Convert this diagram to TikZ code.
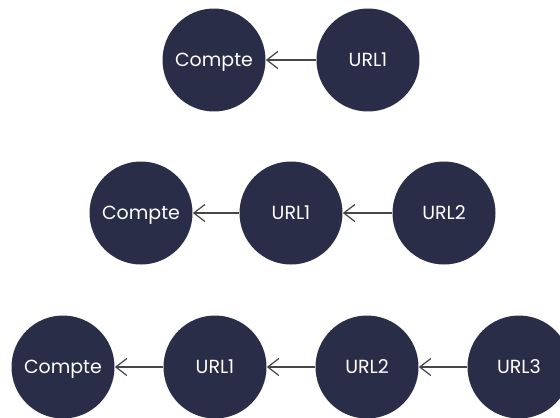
\documentclass[tikz,border=0pt]{standalone}
\usepackage{fontspec}
\setmainfont{Poppins}
\usepackage{tikz}
\usetikzlibrary{arrows.meta}
\definecolor{nuit}{RGB}{42,45,71}
\definecolor{trait}{RGB}{70,70,70}
\tikzset{
    noeud/.style={circle, fill=nuit, text=white, minimum size=2.06cm, inner sep=0pt,
        text height=0.7em, text depth=0pt, font=\fontsize{10.8}{12}\selectfont},
    lien/.style={draw=trait, line width=0.7pt, -{Straight Barb[length=2.2mm, width=3.4mm]}}
}

\begin{document}
\begin{tikzpicture}[x=0.02cm, y=-0.02cm]
    \useasboundingbox (0,0) rectangle (560,417);
    % ligne 1
    \node[noeud] (c1) at (214,60) {Compte};
    \node[noeud] (u11) at (368,60) {URL1};
    \draw[lien] (u11) -- (c1);
    % ligne 2
    \node[noeud] (c2) at (141,213) {Compte};
    \node[noeud] (u21) at (291,213) {URL1};
    \node[noeud] (u22) at (444,213) {URL2};
    \draw[lien] (u21) -- (c2);
    \draw[lien] (u22) -- (u21);
    % ligne 3
    \node[noeud] (c3) at (63,367) {Compte};
    \node[noeud] (u31) at (215,367) {URL1};
    \node[noeud] (u32) at (367,367) {URL2};
    \node[noeud] (u33) at (519,367) {URL3};
    \draw[lien] (u31) -- (c3);
    \draw[lien] (u32) -- (u31);
    \draw[lien] (u33) -- (u32);
\end{tikzpicture}
\end{document}
